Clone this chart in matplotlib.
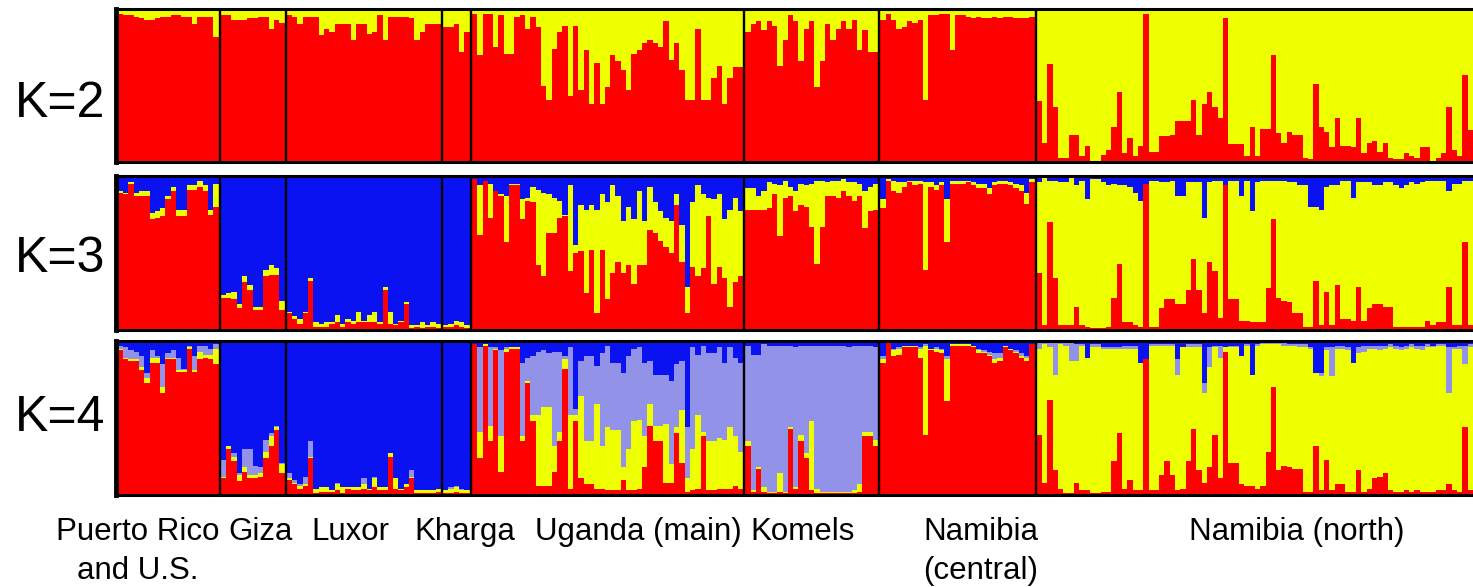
import matplotlib
matplotlib.use("Agg")
import matplotlib.pyplot as plt
import numpy as np

# ---------------- data ----------------
groups = ["Puerto Rico", "Giza", "Luxor", "Kharga", "Uganda (main)", "Komels",
          "Namibia (central)", "Namibia (north)"]
group_labels = [["Puerto Rico", "and U.S."], ["Giza"], ["Luxor"], ["Kharga"],
                ["Uganda (main)"], ["Komels"], ["Namibia", "(central)"], ["Namibia (north)"]]
panel_labels = ["K=2", "K=3", "K=4"]

# ---- K=2 : red membership (yellow = remainder)
k2_red_pr = [0.97,0.96,0.96,0.95,0.94,0.93,0.93,0.94,0.95,0.95,0.96,0.96,0.95,0.95,0.90,0.95,0.95,0.95,0.82]
k2_red_giza = [0.96,0.96,0.93,0.93,0.93,0.94,0.94,0.95,0.95,0.87,0.93,0.91]
k2_red_luxor = [0.96,0.95,0.90,0.95,0.95,0.95,0.83,0.87,0.85,0.90,0.90,0.90,0.80,0.90,0.90,0.84,0.85,0.96,
                0.80,0.95,0.95,0.95,0.95,0.94,0.80,0.85,0.90,0.90,0.90]
k2_red_kharga = [0.88,0.88,0.90,0.72,0.85]
k2_red_uganda = [0.97,0.70,0.97,0.97,0.75,0.96,0.71,0.71,0.95,0.96,0.87,0.95,0.88,0.50,0.41,0.74,0.85,0.89,
                 0.43,0.89,0.47,0.73,0.38,0.65,0.38,0.49,0.70,0.66,0.60,0.47,0.71,0.73,0.78,0.80,0.78,0.75,
                 0.92,0.67,0.78,0.60,0.41,0.41,0.87,0.41,0.41,0.55,0.63,0.38,0.55,0.62,0.62]
k2_red_komels = [0.85,0.90,0.92,0.86,0.92,0.89,0.63,0.80,0.96,0.92,0.66,0.87,0.92,0.49,0.66,0.90,0.80,0.87,
                 0.92,0.87,0.93,0.73,0.86,0.72,0.72]
k2_red_namc = [0.93,0.97,0.93,0.87,0.88,0.92,0.91,0.93,0.41,0.96,0.96,0.97,0.97,0.73,0.96,0.96,0.95,0.94,
               0.95,0.94,0.94,0.95,0.94,0.95,0.95,0.94,0.94,0.94,0.95]
k2_red_namn = [0.40,0.13,0.64,0.36,0.03,0.03,0.18,0.18,0.04,0.11,0.01,0.01,0.05,0.08,0.23,0.46,0.06,0.16,
               0.04,0.11,0.97,0.07,0.07,0.17,0.17,0.18,0.27,0.27,0.27,0.41,0.18,0.38,0.46,0.36,0.29,0.94,
               0.12,0.12,0.12,0.04,0.23,0.04,0.22,0.22,0.70,0.19,0.13,0.20,0.18,0.18,0.03,0.02,0.51,0.23,
               0.20,0.10,0.29,0.11,0.11,0.10,0.29,0.06,0.13,0.14,0.07,0.13,0.03,0.02,0.02,0.06,0.04,0.03,
               0.10,0.10,0.01,0.03,0.06,0.36,0.08,0.04,0.57,0.21]

# ---- K=3 : red + yellow (blue = remainder); Namibia north: red + blue (yellow = remainder)
k3_red_pr = [0.89,0.88,0.95,0.87,0.87,0.87,0.72,0.73,0.74,0.85,0.90,0.74,0.74,0.91,0.91,0.93,0.90,0.75,0.80]
k3_yel_pr = [0.01,0.01,0.01,0.02,0.03,0.03,0.04,0.04,0.05,0.02,0.03,0.04,0.04,0.03,0.03,0.04,0.04,0.03,0.15]
k3_red_giza = [0.21,0.21,0.20,0.14,0.31,0.26,0.13,0.13,0.35,0.36,0.36,0.13]
k3_yel_giza = [0.02,0.03,0.05,0.03,0.04,0.03,0.02,0.02,0.04,0.06,0.04,0.06]
k3_red_luxor = [0.11,0.07,0.04,0.11,0.32,0.02,0.02,0.02,0.04,0.05,0.02,0.05,0.04,0.05,0.05,0.05,0.05,0.04,
                0.26,0.04,0.03,0.05,0.17,0.01,0.02,0.01,0.02,0.02,0.01]
k3_yel_luxor = [0.01,0.02,0.03,0.01,0.02,0.03,0.02,0.03,0.01,0.05,0.02,0.02,0.02,0.07,0.01,0.05,0.07,0.01,
                0.02,0.08,0.01,0.01,0.01,0.02,0.01,0.04,0.01,0.03,0.03]
k3_red_kharga = [0.02,0.02,0.03,0.02,0.01]
k3_yel_kharga = [0.01,0.02,0.03,0.03,0.02]
k3_red_uganda = [0.98,0.62,0.97,0.73,0.90,0.87,0.57,0.94,0.94,0.72,0.84,0.83,0.42,0.35,0.63,0.63,0.73,0.74,
                 0.38,0.50,0.51,0.24,0.52,0.11,0.52,0.20,0.37,0.44,0.37,0.42,0.30,0.42,0.42,0.65,0.63,0.58,
                 0.54,0.50,0.81,0.44,0.11,0.41,0.35,0.40,0.74,0.30,0.41,0.34,0.15,0.31,0.35]
k3_yel_uganda = [0.00,0.32,0.00,0.22,0.00,0.01,0.30,0.01,0.01,0.13,0.02,0.10,0.49,0.54,0.25,0.23,0.11,0.01,
                 0.56,0.05,0.30,0.54,0.29,0.67,0.36,0.63,0.57,0.43,0.34,0.38,0.42,0.48,0.29,0.28,0.20,0.19,
                 0.19,0.21,0.07,0.24,0.17,0.42,0.59,0.48,0.12,0.55,0.47,0.38,0.63,0.55,0.42]
k3_red_komels = [0.78,0.78,0.78,0.78,0.79,0.88,0.61,0.86,0.87,0.77,0.81,0.80,0.67,0.43,0.67,0.87,0.87,0.86,
                 0.90,0.87,0.84,0.87,0.66,0.77,0.78]
k3_yel_komels = [0.14,0.14,0.09,0.12,0.17,0.07,0.33,0.11,0.06,0.13,0.14,0.14,0.28,0.54,0.30,0.09,0.10,0.11,
                 0.08,0.09,0.12,0.08,0.24,0.16,0.17]
k3_red_namc = [0.79,0.97,0.90,0.89,0.93,0.96,0.94,0.95,0.39,0.93,0.91,0.94,0.57,0.95,0.95,0.95,0.96,0.94,
               0.92,0.92,0.88,0.94,0.95,0.95,0.94,0.92,0.90,0.82,0.96]
k3_yel_namc = [0.06,0.01,0.07,0.07,0.03,0.01,0.03,0.02,0.57,0.03,0.03,0.02,0.28,0.02,0.02,0.02,0.01,0.02,
               0.03,0.03,0.04,0.02,0.02,0.02,0.02,0.03,0.04,0.07,0.02]
k3_red_namn = [0.37,0.03,0.70,0.34,0.03,0.03,0.03,0.15,0.03,0.02,0.01,0.01,0.01,0.02,0.21,0.43,0.05,0.05,
               0.03,0.02,0.95,0.02,0.02,0.14,0.20,0.20,0.17,0.17,0.26,0.46,0.26,0.11,0.44,0.38,0.08,0.94,
               0.20,0.20,0.06,0.06,0.05,0.05,0.05,0.27,0.72,0.21,0.19,0.18,0.11,0.11,0.02,0.02,0.32,0.03,
               0.25,0.03,0.29,0.07,0.07,0.06,0.28,0.06,0.14,0.17,0.17,0.15,0.15,0.02,0.02,0.02,0.02,0.02,
               0.02,0.06,0.03,0.05,0.05,0.28,0.03,0.03,0.57,0.03]
k3_blu_namn = [0.04,0.01,0.03,0.03,0.04,0.04,0.01,0.06,0.03,0.15,0.02,0.02,0.04,0.06,0.05,0.06,0.06,0.07,
               0.11,0.16,0.05,0.03,0.03,0.04,0.04,0.03,0.13,0.13,0.04,0.04,0.04,0.27,0.04,0.03,0.03,0.06,
               0.03,0.03,0.13,0.03,0.23,0.04,0.03,0.03,0.03,0.03,0.03,0.04,0.04,0.06,0.06,0.20,0.20,0.22,
               0.07,0.06,0.06,0.03,0.03,0.14,0.04,0.04,0.04,0.06,0.06,0.04,0.04,0.06,0.08,0.06,0.04,0.05,
               0.04,0.03,0.03,0.03,0.03,0.10,0.05,0.05,0.03,0.03]

# ---- K=4 : red + yellow + lavender (blue = remainder); Namibia north: red + lavender + blue
k4_red_pr = [0.94,0.88,0.87,0.87,0.81,0.73,0.86,0.86,0.66,0.88,0.88,0.80,0.80,0.95,0.80,0.88,0.89,0.88,0.85]
k4_yel_pr = [0.01,0.01,0.01,0.01,0.02,0.03,0.03,0.03,0.04,0.01,0.01,0.01,0.01,0.01,0.01,0.05,0.02,0.03,0.10]
k4_lav_pr = [0.02,0.07,0.06,0.05,0.07,0.03,0.05,0.01,0.15,0.03,0.05,0.08,0.01,0.01,0.09,0.04,0.06,0.04,0.03]
k4_red_giza = [0.11,0.30,0.22,0.09,0.15,0.11,0.11,0.12,0.24,0.32,0.42,0.14]
k4_yel_giza = [0.01,0.02,0.03,0.04,0.03,0.02,0.02,0.02,0.04,0.06,0.02,0.06]
k4_lav_giza = [0.11,0.00,0.02,0.01,0.12,0.17,0.06,0.04,0.08,0.02,0.01,0.01]
k4_red_luxor = [0.10,0.07,0.04,0.06,0.24,0.01,0.02,0.02,0.02,0.03,0.01,0.04,0.03,0.03,0.04,0.03,0.05,0.03,
                0.03,0.25,0.04,0.03,0.05,0.11,0.01,0.01,0.01,0.01,0.02]
k4_yel_luxor = [0.01,0.01,0.02,0.01,0.01,0.03,0.03,0.03,0.01,0.04,0.04,0.01,0.02,0.02,0.03,0.01,0.06,0.02,
                0.02,0.02,0.07,0.01,0.02,0.01,0.02,0.02,0.02,0.02,0.02]
k4_lav_luxor = [0.03,0.02,0.01,0.05,0.10,0.00,0.00,0.00,0.00,0.01,0.00,0.00,0.00,0.00,0.04,0.00,0.01,0.00,
                0.00,0.00,0.00,0.00,0.00,0.04,0.00,0.00,0.00,0.00,0.00]
k4_red_kharga = [0.01,0.01,0.02,0.01,0.01]
k4_yel_kharga = [0.02,0.03,0.03,0.02,0.02]
k4_lav_kharga = [0.00,0.01,0.01,0.01,0.00]
k4_red_uganda = [0.98,0.24,0.97,0.35,0.94,0.15,0.93,0.95,0.95,0.35,0.73,0.48,0.06,0.06,0.06,0.15,0.35,0.82,
                 0.04,0.48,0.11,0.07,0.07,0.04,0.04,0.03,0.03,0.03,0.10,0.03,0.03,0.04,0.18,0.45,0.35,0.35,
                 0.08,0.08,0.40,0.21,0.02,0.03,0.04,0.38,0.03,0.03,0.04,0.04,0.04,0.06,0.04]
k4_yel_uganda = [0.00,0.17,0.01,0.10,0.01,0.23,0.02,0.01,0.01,0.03,0.01,0.04,0.46,0.51,0.51,0.17,0.06,0.06,
                 0.48,0.04,0.53,0.28,0.28,0.55,0.28,0.41,0.39,0.39,0.08,0.27,0.45,0.45,0.20,0.14,0.10,0.10,
                 0.38,0.12,0.04,0.34,0.09,0.27,0.48,0.03,0.32,0.32,0.33,0.32,0.40,0.32,0.24]
k4_lav_uganda = [0.00,0.55,0.00,0.51,0.01,0.56,0.01,0.00,0.00,0.48,0.15,0.38,0.41,0.37,0.35,0.61,0.52,0.02,
                 0.44,0.04,0.23,0.55,0.55,0.25,0.60,0.53,0.44,0.44,0.61,0.60,0.47,0.47,0.48,0.28,0.33,0.33,
                 0.32,0.54,0.41,0.32,0.33,0.66,0.39,0.56,0.57,0.57,0.59,0.50,0.52,0.51,0.58]
k4_red_komels = [0.32,0.02,0.17,0.02,0.01,0.01,0.02,0.01,0.43,0.04,0.35,0.24,0.03,0.01,0.01,0.01,0.01,0.01,
                 0.01,0.01,0.01,0.02,0.38,0.38,0.32]
k4_yel_komels = [0.03,0.01,0.01,0.03,0.01,0.01,0.12,0.01,0.01,0.01,0.04,0.03,0.45,0.03,0.01,0.01,0.01,0.01,
                 0.01,0.01,0.02,0.05,0.03,0.03,0.04]
k4_lav_komels = [0.62,0.88,0.73,0.93,0.95,0.95,0.83,0.95,0.53,0.91,0.58,0.70,0.49,0.93,0.95,0.95,0.95,0.95,
                 0.95,0.94,0.94,0.90,0.56,0.56,0.60]
k4_red_namc = [0.86,0.99,0.90,0.91,0.96,0.96,0.96,0.89,0.39,0.94,0.93,0.92,0.61,0.97,0.97,0.97,0.97,0.96,
               0.92,0.92,0.90,0.86,0.87,0.96,0.94,0.92,0.89,0.87,0.98]
k4_yel_namc = [0.02,0.00,0.04,0.04,0.01,0.01,0.01,0.06,0.58,0.01,0.02,0.02,0.27,0.01,0.01,0.01,0.01,0.01,
               0.02,0.01,0.01,0.02,0.02,0.01,0.01,0.01,0.01,0.02,0.00]
k4_lav_namc = [0.02,0.00,0.01,0.01,0.00,0.00,0.00,0.01,0.01,0.00,0.01,0.01,0.02,0.00,0.00,0.00,0.00,0.00,
               0.01,0.01,0.02,0.04,0.03,0.00,0.00,0.01,0.02,0.01,0.00]
k4_red_namn = [0.39,0.08,0.62,0.16,0.04,0.01,0.01,0.08,0.03,0.03,0.01,0.01,0.02,0.02,0.22,0.40,0.04,0.10,
               0.03,0.03,0.88,0.03,0.03,0.13,0.22,0.13,0.03,0.04,0.22,0.43,0.16,0.08,0.18,0.39,0.11,0.93,
               0.21,0.21,0.07,0.06,0.06,0.04,0.06,0.28,0.70,0.16,0.19,0.18,0.17,0.17,0.02,0.02,0.32,0.03,
               0.23,0.03,0.07,0.07,0.02,0.02,0.16,0.02,0.04,0.11,0.12,0.14,0.03,0.02,0.02,0.03,0.02,0.03,
               0.02,0.02,0.02,0.03,0.03,0.07,0.03,0.02,0.44,0.03]
k4_lav_namn = [0.04,0.01,0.03,0.21,0.01,0.02,0.12,0.11,0.01,0.00,0.02,0.02,0.01,0.01,0.01,0.01,0.02,0.02,
               0.02,0.00,0.00,0.01,0.01,0.01,0.01,0.01,0.10,0.00,0.02,0.02,0.02,0.07,0.13,0.01,0.08,0.00,
               0.01,0.01,0.00,0.01,0.00,0.01,0.01,0.01,0.01,0.01,0.02,0.01,0.01,0.02,0.02,0.01,0.00,0.02,
               0.02,0.19,0.02,0.02,0.02,0.00,0.04,0.04,0.02,0.02,0.03,0.02,0.02,0.02,0.02,0.02,0.02,0.02,
               0.03,0.02,0.01,0.01,0.01,0.30,0.01,0.02,0.12,0.02]
k4_blu_namn = [0.01,0.01,0.01,0.01,0.01,0.01,0.01,0.02,0.02,0.11,0.02,0.02,0.04,0.04,0.04,0.04,0.03,0.03,
               0.03,0.14,0.12,0.02,0.02,0.02,0.02,0.02,0.12,0.04,0.02,0.02,0.02,0.27,0.04,0.03,0.03,0.04,
               0.03,0.03,0.10,0.02,0.22,0.02,0.01,0.01,0.01,0.01,0.01,0.02,0.02,0.02,0.02,0.04,0.21,0.21,
               0.04,0.04,0.03,0.03,0.04,0.14,0.04,0.03,0.03,0.03,0.03,0.03,0.02,0.03,0.04,0.03,0.02,0.03,
               0.03,0.02,0.03,0.02,0.02,0.04,0.04,0.03,0.03,0.02]

K2 = [dict(red=k2_red_pr), dict(red=k2_red_giza), dict(red=k2_red_luxor), dict(red=k2_red_kharga),
      dict(red=k2_red_uganda), dict(red=k2_red_komels), dict(red=k2_red_namc), dict(red=k2_red_namn)]
K3 = [dict(red=k3_red_pr, yellow=k3_yel_pr), dict(red=k3_red_giza, yellow=k3_yel_giza),
      dict(red=k3_red_luxor, yellow=k3_yel_luxor), dict(red=k3_red_kharga, yellow=k3_yel_kharga),
      dict(red=k3_red_uganda, yellow=k3_yel_uganda), dict(red=k3_red_komels, yellow=k3_yel_komels),
      dict(red=k3_red_namc, yellow=k3_yel_namc), dict(red=k3_red_namn, blue=k3_blu_namn)]
K4 = [dict(red=k4_red_pr, yellow=k4_yel_pr, lav=k4_lav_pr),
      dict(red=k4_red_giza, yellow=k4_yel_giza, lav=k4_lav_giza),
      dict(red=k4_red_luxor, yellow=k4_yel_luxor, lav=k4_lav_luxor),
      dict(red=k4_red_kharga, yellow=k4_yel_kharga, lav=k4_lav_kharga),
      dict(red=k4_red_uganda, yellow=k4_yel_uganda, lav=k4_lav_uganda),
      dict(red=k4_red_komels, yellow=k4_yel_komels, lav=k4_lav_komels),
      dict(red=k4_red_namc, yellow=k4_yel_namc, lav=k4_lav_namc),
      dict(red=k4_red_namn, lav=k4_lav_namn, blue=k4_blu_namn)]

panels = [(K2, ["red", "yellow"]), (K3, ["red", "yellow", "blue"]),
          (K4, ["red", "yellow", "lav", "blue"])]
colors = {"red": "#FF0000", "yellow": "#EEFF00", "lav": "#9292E8", "blue": "#0A12F2"}

# ---------------- layout ----------------
W, H = 1473, 587
fig = plt.figure(figsize=(W / 100, H / 100), dpi=100)
GAP = 0.4
sizes = [len(g["red"]) for g in K2]
starts = []
cur = 0.0
for n in sizes:
    starts.append(cur)
    cur += n + GAP
xmax = starts[-1] + sizes[-1]

panel_px = [(9.0, 162.5), (176.0, 330.0), (341.0, 495.0)]  # top, bottom (px)
label_base = [117, 272, 431]
left_px = 116
FONT = ["Liberation Sans", "DejaVu Sans"]

for (data, comps), (top, bot), lab, lb in zip(panels, panel_px, panel_labels, label_base):
    ax = fig.add_axes([left_px / W, 1 - bot / H, 1 - left_px / W, (bot - top) / H])
    for gi, g in enumerate(data):
        n = len(g["red"])
        arrs = {c: np.array(g[c], float) for c in comps if c in g}
        missing = [c for c in comps if c not in g]
        arrs[missing[0]] = np.clip(1 - sum(arrs.values()), 0, None)
        x = starts[gi] + np.arange(n) + 0.5
        bottom = np.zeros(n)
        for c in comps:
            ax.bar(x, arrs[c], width=1.0, bottom=bottom, color=colors[c],
                   linewidth=0, antialiased=False)
            bottom = bottom + arrs[c]
    for gi in range(1, len(starts)):
        ax.axvline(starts[gi] - GAP / 2, color="black", lw=1.7)
    ax.set_xlim(-0.3, xmax)
    ax.set_ylim(0, 1)
    ax.set_xticks([])
    ax.set_yticks([])
    for s in ["top", "bottom"]:
        ax.spines[s].set_linewidth(2.2)
    ax.spines["left"].set_linewidth(3.5)
    ax.spines["right"].set_visible(False)
    fig.text(60 / W, 1 - lb / H, lab, ha="center", va="baseline",
             fontsize=36, family=FONT)

# bottom group labels (centres in px)
label_centers = [138, 261, 350, 465, 638, 803, 981, 1297]
line_base = [540, 579]
for cx, lines in zip(label_centers, group_labels):
    for li, t in enumerate(lines):
        fig.text(cx / W, 1 - line_base[li] / H, t, ha="center", va="baseline",
                 fontsize=22.5, family=FONT)

fig.savefig("out.png", dpi=100, facecolor="white")
